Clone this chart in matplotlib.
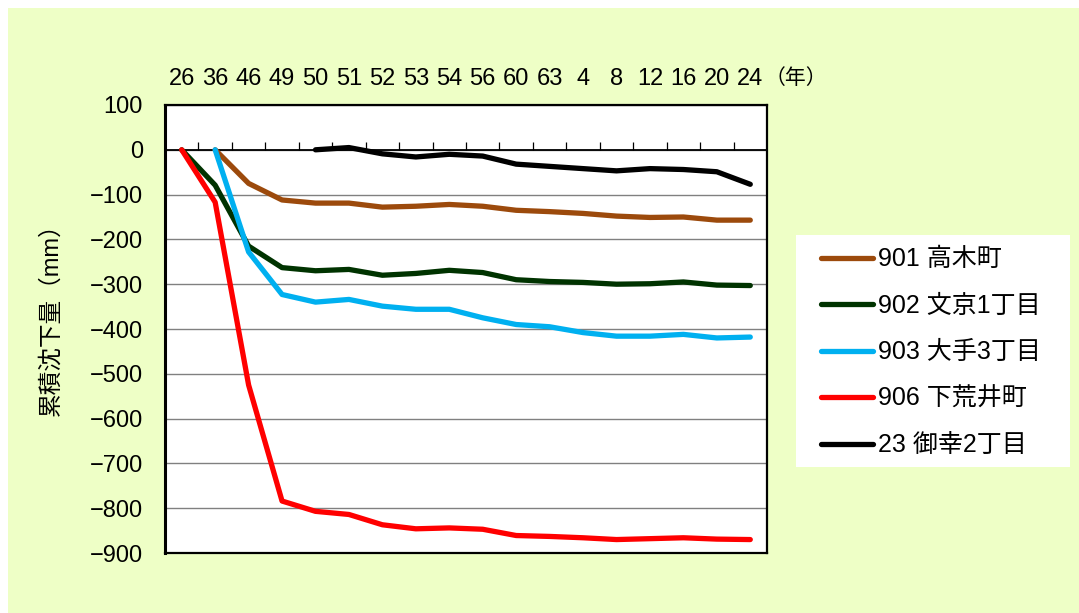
import numpy as np
import matplotlib
matplotlib.use("Agg")
import matplotlib.pyplot as plt
from matplotlib.patches import Rectangle

plt.rcParams['font.family'] = ['Liberation Sans', 'Noto Sans CJK JP', 'DejaVu Sans']

years = ["26", "36", "46", "49", "50", "51", "52", "53", "54", "56",
         "60", "63", "4", "8", "12", "16", "20", "24"]

nan = np.nan
s901 = [nan, 0, -75, -112, -119, -119, -128, -126, -122, -126,
        -135, -138, -142, -148, -151, -150, -157, -157]
s902 = [0, -79, -215, -263, -270, -267, -280, -276, -269, -274,
        -290, -294, -296, -300, -299, -295, -302, -303]
s903 = [nan, 0, -228, -323, -340, -334, -349, -356, -356, -375,
        -390, -395, -408, -416, -416, -412, -420, -418]
s906 = [0, -117, -525, -784, -807, -814, -837, -846, -844, -847,
        -861, -863, -866, -870, -868, -866, -869, -870]
s23 = [nan, nan, nan, nan, 0, 5, -9, -16, -10, -14,
       -32, -37, -42, -47, -42, -44, -49, -77]

names = ["901 高木町", "902 文京1丁目", "903 大手3丁目", "906 下荒井町", "23 御幸2丁目"]
colors = ["#9C4A0C", "#003300", "#00B0F0", "#FF0000", "#000000"]

W, H = 1079, 613
fig = plt.figure(figsize=(W / 100, H / 100), dpi=100)
fig.patch.set_facecolor("white")
# light green backdrop, inset from top/left edge
fig.patches.append(Rectangle((8 / W, 0), 1 - 8 / W, 1 - 8 / H,
                             transform=fig.transFigure, facecolor="#EEFFC6",
                             edgecolor="none", zorder=-10))
# white legend box
fig.patches.append(Rectangle((796 / W, 1 - 467 / H), (1070 - 796) / W, (467 - 235) / H,
                             transform=fig.transFigure, facecolor="white",
                             edgecolor="none", zorder=-5))

ax = fig.add_axes([165 / W, 1 - 553 / H, (767 - 165) / W, (553 - 105) / H])
ax.set_facecolor("white")

x = np.arange(len(years))
for data, name, c in zip([s901, s902, s903, s906, s23], names, colors):
    ax.plot(x, data, color=c, linewidth=3.8, label=name,
            solid_capstyle="round", solid_joinstyle="round", zorder=3)

ax.set_xlim(-0.5, len(years) - 0.5)
ax.set_ylim(-900, 100)
ax.set_yticks(np.arange(-900, 101, 100))
ax.yaxis.grid(True, color="#808080", linewidth=1)
ax.set_axisbelow(True)
ax.axhline(0, color="black", linewidth=1.3, zorder=2)
# category separator ticks on the zero line
ax.vlines(x[:-1] + 0.5, 0, 17, color="black", linewidth=0.9, zorder=2)

ax.set_xticks(x)
ax.set_xticklabels(years)
ax.tick_params(axis="x", bottom=False, top=False, labelbottom=False,
               labeltop=True, pad=7, labelsize=17)
ax.tick_params(axis="y", length=0, pad=16, labelsize=17)

for sp in ax.spines.values():
    sp.set_linewidth(1.6)
    sp.set_color("black")
ax.spines["left"].set_linewidth(2.2)

ax.set_ylabel("累積沈下量（mm）", fontsize=17)
ax.yaxis.set_label_coords(-0.17, 0.535)
fig.text(796 / W, 1 - 78 / H, "（年）", fontsize=15, ha="center", va="center")

leg = ax.legend(loc="upper left", bbox_to_anchor=(808 / W, 1 - 235 / H),
                bbox_transform=fig.transFigure, fontsize=18, frameon=False,
                handlelength=2.1, handletextpad=0.2, labelspacing=0.9,
                borderpad=0.5, borderaxespad=0)

fig.savefig("out.png", dpi=100, facecolor=fig.get_facecolor())
